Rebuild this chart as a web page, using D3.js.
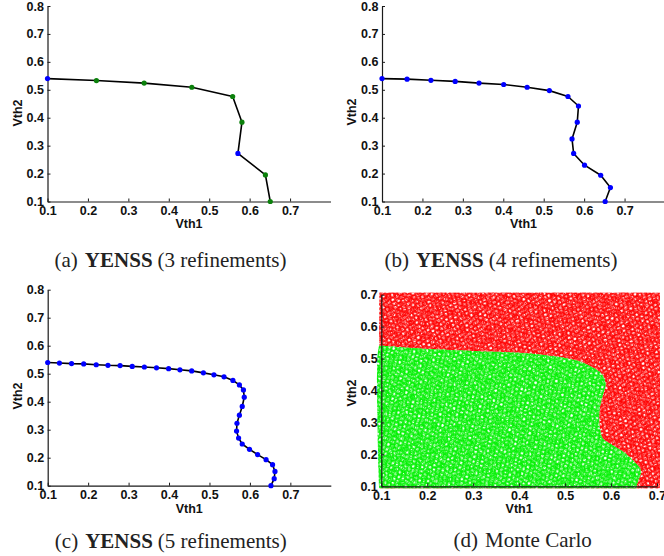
<!DOCTYPE html>
<html>
<head>
<meta charset="utf-8">
<script src="https://cdn.jsdelivr.net/npm/d3@7"></script>
<style>
  html, body { margin: 0; padding: 0; background: #fff; }
  svg { display: block; }
  .tick text { font-family: "Liberation Sans", Arial, sans-serif; font-weight: bold; font-size: 12.5px; fill: #111; }
  .axlabel { font-family: "Liberation Sans", Arial, sans-serif; font-weight: bold; font-size: 12.5px; fill: #111; }
  .caption { font-family: "Liberation Serif", "Times New Roman", serif; font-size: 21px; fill: #222; }
</style>
</head>
<body>
<svg id="chart" width="664" height="556"></svg>
<script>
// ---------------- data ----------------
const xTickValues = [0.1, 0.2, 0.3, 0.4, 0.5, 0.6, 0.7];
const yTickValuesYenss = [0.1, 0.2, 0.3, 0.4, 0.5, 0.6, 0.7, 0.8];
const yTickValuesMC = [0.1, 0.2, 0.3, 0.4, 0.5, 0.6, 0.7];

// (a) 3 refinements
const vth1A = [0.100, 0.221, 0.339, 0.457, 0.558, 0.581, 0.571, 0.639, 0.651];
const vth2A = [0.540, 0.533, 0.524, 0.509, 0.476, 0.384, 0.272, 0.195, 0.100];
const kindA = ["initial", "new", "new", "new", "new", "new", "initial", "new", "new"];

// (b) 4 refinements
const vth1B = [0.100, 0.162, 0.221, 0.281, 0.340, 0.401, 0.459, 0.514, 0.560, 0.586, 0.583, 0.570, 0.574, 0.601, 0.641, 0.665, 0.652];
const vth2B = [0.540, 0.538, 0.534, 0.530, 0.524, 0.519, 0.509, 0.497, 0.476, 0.442, 0.384, 0.324, 0.272, 0.230, 0.194, 0.150, 0.100];

// (c) 5 refinements
const vth1C = [0.100, 0.129, 0.159, 0.189, 0.220, 0.249, 0.279, 0.309, 0.339, 0.369, 0.399, 0.427, 0.456, 0.485, 0.511, 0.536, 0.558, 0.574, 0.584, 0.586, 0.581, 0.574, 0.568, 0.567, 0.572, 0.581, 0.599, 0.619, 0.640, 0.656, 0.662, 0.660, 0.652];
const vth2C = [0.540, 0.538, 0.536, 0.535, 0.532, 0.530, 0.529, 0.526, 0.524, 0.521, 0.518, 0.514, 0.510, 0.503, 0.496, 0.489, 0.476, 0.460, 0.442, 0.416, 0.383, 0.352, 0.323, 0.295, 0.270, 0.249, 0.230, 0.211, 0.193, 0.175, 0.151, 0.125, 0.100];

// (d) Monte Carlo: pass (green) / fail (red) regions, boundary
const mcBoundaryVth1 = [0.100, 0.150, 0.200, 0.250, 0.300, 0.350, 0.400, 0.450, 0.500, 0.530, 0.560, 0.580, 0.588, 0.582, 0.576, 0.574, 0.576, 0.582, 0.600, 0.625, 0.645, 0.665, 0.660, 0.655];
const mcBoundaryVth2 = [0.540, 0.535, 0.530, 0.527, 0.524, 0.521, 0.518, 0.512, 0.502, 0.492, 0.472, 0.452, 0.420, 0.385, 0.350, 0.315, 0.280, 0.250, 0.232, 0.210, 0.185, 0.150, 0.120, 0.100];

const captions = [
  { label: "(a)", bold: "YENSS", rest: "(3 refinements)" },
  { label: "(b)", bold: "YENSS", rest: "(4 refinements)" },
  { label: "(c)", bold: "YENSS", rest: "(5 refinements)" },
  { label: "(d)", bold: "", rest: "Monte Carlo" }
];

// ---------------- layout ----------------
const svg = d3.select("#chart");
const BLUE = "#0000ff", DKGREEN = "#0b800b", MCRED = "#ff0000", MCGREEN = "#00f000";

const panels = [
  { x0: 47.5, x1: 330.5, yTop: 6.0,   yBot: 201.5, xDom: [0.1, 0.8], yDom: [0.1, 0.8], yTicks: yTickValuesYenss,
    capX: 170.5, capY: 267, v2Y: 113 },
  { x0: 382.0, x1: 665.0, yTop: 6.0,   yBot: 201.5, xDom: [0.1, 0.8], yDom: [0.1, 0.8], yTicks: yTickValuesYenss,
    capX: 501, capY: 267, v2Y: 112 },
  { x0: 47.7, x1: 330.8, yTop: 289.7, yBot: 485.7, xDom: [0.1, 0.8], yDom: [0.1, 0.8], yTicks: yTickValuesYenss,
    capX: 170.8, capY: 548, v2Y: 396 },
  { x0: 381.3, x1: 657.0, yTop: 294.7, yBot: 486.3, xDom: [0.1, 0.7], yDom: [0.1, 0.7], yTicks: yTickValuesMC,
    capX: 522.7, capY: 547, v2Y: 393 }
];

panels.forEach(p => {
  p.x = d3.scaleLinear().domain(p.xDom).range([p.x0, p.x1]);
  p.y = d3.scaleLinear().domain(p.yDom).range([p.yBot, p.yTop]);
  p.g = svg.append("g");
});

// ---------------- Monte Carlo textures (style only) ----------------
const defs = svg.append("defs");
const ringSpots = [[1.5,2],[6,1],[10.5,2.5],[3.5,5.5],[8,5],[12.5,6.5],[1,9],[5.5,9],[10,9.5],[3,12.5],[7.5,12.5],[12,12.5],[13.5,1],[7,7.5]];
function makePattern(id, color, rot, tile) {
  const pat = defs.append("pattern").attr("id", id).attr("patternUnits", "userSpaceOnUse")
    .attr("width", tile).attr("height", tile).attr("patternTransform", `rotate(${rot})`);
  const k = tile / 14;
  const offs = [-tile, 0, tile];
  ringSpots.forEach(s => {
    offs.forEach(dx => offs.forEach(dy => {
      pat.append("circle").attr("cx", s[0] * k + dx).attr("cy", s[1] * k + dy).attr("r", 2.3)
        .attr("fill", "none").attr("stroke", color).attr("stroke-width", 1.0);
    }));
  });
}
makePattern("mcRedA", MCRED, 17, 15);
makePattern("mcRedB", MCRED, -41, 18);
makePattern("mcGreenA", MCGREEN, -23, 15);
makePattern("mcGreenB", MCGREEN, 52, 18);

(function drawMC() {
  const p = panels[3];
  const g = p.g;
  ["mcRedA", "mcRedB"].forEach(id => {
    g.append("rect")
      .attr("x", p.x(0.1) - 2).attr("y", p.y(0.7) - 2)
      .attr("width", p.x(0.7) - p.x(0.1) + 5).attr("height", p.y(0.1) - p.y(0.7) + 4)
      .attr("fill", `url(#${id})`);
  });
  const pts = [[p.x(0.1) - 2, p.y(0.1) + 2], [p.x(0.1) - 2, p.y(mcBoundaryVth2[0])]];
  mcBoundaryVth1.forEach((v, i) => pts.push([p.x(v), p.y(mcBoundaryVth2[i])]));
  pts.push([p.x(mcBoundaryVth1[mcBoundaryVth1.length - 1]), p.y(0.1) + 2]);
  const area = d3.line().curve(d3.curveCatmullRom)(pts) + "Z";
  g.append("path").attr("d", area).attr("fill", "#fff");
  ["mcGreenA", "mcGreenB"].forEach(id => g.append("path").attr("d", area).attr("fill", `url(#${id})`));
})();

// ---------------- axes ----------------
panels.forEach((p, i) => {
  const g = p.g;
  const xa = d3.axisBottom(p.x).tickValues(xTickValues).tickSize(-3).tickSizeOuter(0).tickPadding(4.5)
    .tickFormat(d3.format(".1f"));
  const ya = d3.axisLeft(p.y).tickValues(p.yTicks).tickSize(-3).tickSizeOuter(0).tickPadding(3.5)
    .tickFormat(d3.format(".1f"));
  const gx = g.append("g").attr("transform", `translate(0,${p.yBot})`).call(xa);
  const gy = g.append("g").attr("transform", `translate(${p.x0},0)`).call(ya);
  [gx, gy].forEach(a => {
    a.select(".domain").attr("stroke", "#1a1a1a").attr("stroke-width", 1.2);
    a.selectAll(".tick line").attr("stroke", "#1a1a1a").attr("stroke-width", 1);
    a.attr("font-family", null).attr("font-size", null);
  });
  g.append("text").attr("class", "axlabel").attr("x", (p.x0 + (i === 3 ? p.x1 : p.x(0.8))) / 2)
    .attr("y", p.yBot + 22.5).attr("dy", "0.35em").attr("text-anchor", "middle").text("Vth1");
  g.append("text").attr("class", "axlabel")
    .attr("transform", `translate(${p.x0 - 30},${p.v2Y}) rotate(-90)`)
    .attr("dy", "0.35em").attr("text-anchor", "middle").text("Vth2");

  const c = captions[i];
  const t = g.append("text").attr("class", "caption").attr("x", p.capX).attr("y", p.capY).attr("text-anchor", "middle");
  t.append("tspan").text(c.label);
  if (c.bold) {
    t.append("tspan").attr("dx", 7).attr("font-weight", "bold").text(c.bold);
    t.append("tspan").attr("dx", 5).text(c.rest);
  } else {
    t.append("tspan").attr("dx", 7).text(c.rest);
  }
});

// ---------------- YENSS curves ----------------
function drawCurve(p, xs, ys, colorOf) {
  const pts = xs.map((v, i) => [p.x(v), p.y(ys[i])]);
  p.g.append("path").attr("d", d3.line()(pts)).attr("fill", "none")
    .attr("stroke", "#000").attr("stroke-width", 1.6).attr("stroke-linejoin", "round");
  p.g.selectAll(null).data(pts).enter().append("circle")
    .attr("cx", d => d[0]).attr("cy", d => d[1]).attr("r", 2.6)
    .attr("fill", (d, i) => colorOf(i));
}
drawCurve(panels[0], vth1A, vth2A, i => kindA[i] === "initial" ? BLUE : DKGREEN);
drawCurve(panels[1], vth1B, vth2B, () => BLUE);
drawCurve(panels[2], vth1C, vth2C, () => BLUE);
</script>
</body>
</html>
